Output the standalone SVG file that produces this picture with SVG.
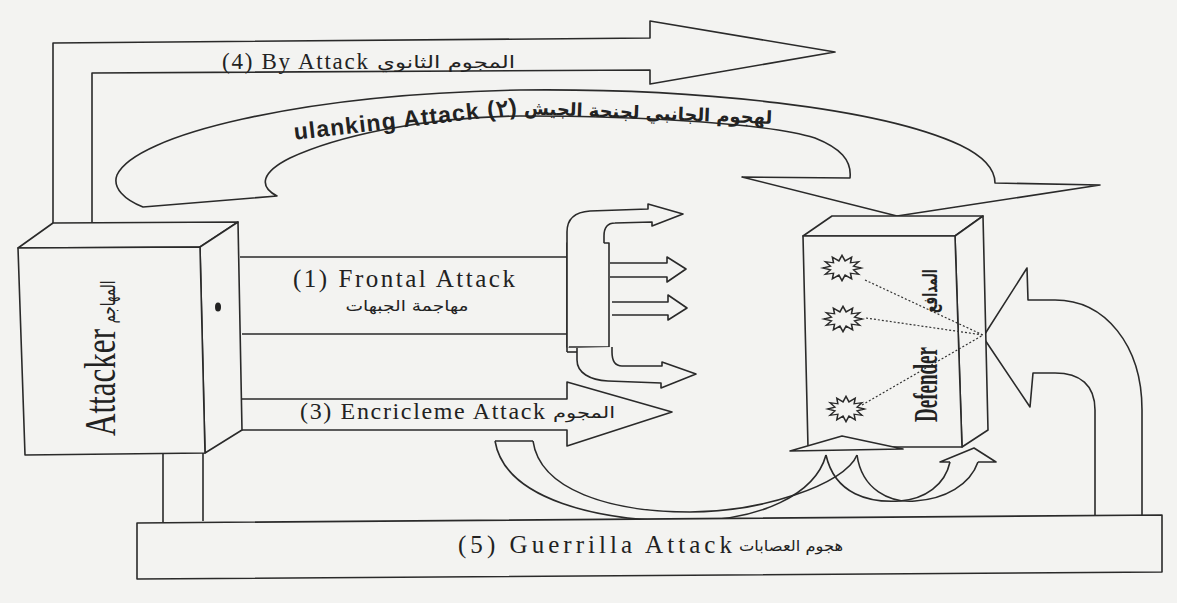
<svg xmlns="http://www.w3.org/2000/svg" width="1177" height="603" viewBox="0 0 1177 603">
<style>
.ln{fill:none;stroke:#2a2a2a;stroke-width:1.6;stroke-linejoin:round}
.bg{fill:#f3f3f1;stroke:#2a2a2a;stroke-width:1.6;stroke-linejoin:round}
.en{font-family:"Liberation Serif","Times New Roman",serif;fill:#222}
.ar{font-family:"DejaVu Sans","Noto Sans",sans-serif;fill:#222}
.fl{font-family:"Liberation Sans",Arial,sans-serif;font-weight:bold;fill:#222}
.dot{fill:none;stroke:#333;stroke-width:1.2;stroke-dasharray:2 2}
</style>
<defs>
<polygon id="burst" points="16,0 9.66,1.81 13.86,6 7.07,4.95 8,10.39 2.59,6.76 0,12 -2.59,6.76 -8,10.39 -7.07,4.95 -13.86,6 -9.66,1.81 -16,0 -9.66,-1.81 -13.86,-6 -7.07,-4.95 -8,-10.39 -2.59,-6.76 0,-12 2.59,-6.76 8,-10.39 7.07,-4.95 13.86,-6 9.66,-1.81" fill="#f3f3f1" stroke="#2a2a2a" stroke-width="1.3"/>
</defs>
<rect x="0" y="0" width="1177" height="603" fill="#f3f3f1"/>

<g id="connectors">
  <g id="by-attack">
    <path class="bg" d="M53 223 V43 L650 38 V21 L835 52 L650 84 V70 L92 73 V223"/>
    <text class="en" x="222" y="69" font-size="23" textLength="146">(4) By Attack</text>
    <text class="ar" x="446" y="68" font-size="17" text-anchor="middle" textLength="138" lengthAdjust="spacingAndGlyphs">المجوم الثانوي</text>
  </g>
  <g id="flanking-attack">
    <path class="bg" d="M143 207 C125 200 112 188 117 175 C135 135 300 94 520 90 C700 88 880 108 960 145 C985 157 995 170 995 183 L1100 185 L897 216 L742 177 L850 178 C852 160 840 148 815 138 C770 124 650 116 520 116 C420 117 335 137 290 158 C262 172 258 186 277 196 Z"/>
    <text class="fl" transform="translate(406,127) rotate(-6.6)" font-size="23" text-anchor="middle" textLength="224">ulanking Attack (٢)</text>
    <text class="ar" transform="translate(648,119) rotate(2.3)" font-size="18" font-weight="bold" text-anchor="middle" textLength="248" lengthAdjust="spacingAndGlyphs">لهجوم الجانبي لجنحة الجيش</text>
  </g>
  <g id="frontal-attack">
    <path class="ln" d="M240 257 H567 M242 334 H567"/>
    <path class="bg" d="M567 243 H609 V347 H567 Z"/>
    <path class="bg" d="M567 352 V232 C567 218 575 212 590 211 L648 209 V204 L683 214 L652 226 V222 L615 223 C607 223 604 228 604 236 V243"/>
    <path class="ln" d="M567 352 H577"/>
    <path class="bg" d="M577 348 V360 C577 373 590 380 608 381 L661 383 V388 L696 374 L662 362 V366 L622 366 C615 366 612 360 612 352 V347"/>
    <path class="bg" d="M610 263 H667 V257 L686 269 L667 282 V277 H610"/>
    <path class="bg" d="M612 302 H668 V295 L687 308 L668 320 V315 H612"/>
    <text class="en" x="293" y="287" font-size="25" textLength="222">(1) Frontal Attack</text>
    <text class="ar" x="407" y="311" font-size="15" text-anchor="middle" textLength="123" lengthAdjust="spacingAndGlyphs">مهاجمة الجبهات</text>
  </g>
  <g id="encircle-attack">
    <path class="bg" d="M242 399 H567 V382 L672 412 L567 446 V430 H242"/>
    <text class="en" x="300" y="419" font-size="24" textLength="245">(3) Encricleme Attack</text>
    <text class="ar" x="584" y="418" font-size="16" text-anchor="middle" textLength="62" lengthAdjust="spacingAndGlyphs">المجوم</text>
    <path class="ln" d="M495 441 H533"/>
    <path class="ln" d="M495 441 C505 500 600 522 690 521 C760 520 815 495 826 455"/>
    <path class="ln" d="M533 441 C540 490 610 512 690 512 C760 512 845 485 857 455"/>
    <path class="ln" d="M826 455 C835 495 870 503 900 501 C925 499 945 485 950 462"/>
    <path class="ln" d="M857 455 C862 490 890 503 915 501 C945 499 970 485 978 462"/>
    <path class="ln" d="M950 462 H940 L974 448 L996 462 H978"/>
  </g>
  <g id="guerrilla-attack">
    <polygon class="bg" points="137,523 1162,515 1162,572 137,579"/>
    <path class="ln" d="M163 453 V522 M203 453 V521"/>
    <path class="ln" d="M1095 515 V410 C1095 385 1080 373 1055 373 H1033 L1030 407 L983 337 L1027 268 L1028 300 H1055 C1105 300 1142 345 1142 410 V515"/>
    <text class="en" x="458" y="553" font-size="25" textLength="274">(5) Guerrilla Attack</text>
    <text class="ar" x="791" y="551" font-size="15" text-anchor="middle" textLength="104" lengthAdjust="spacingAndGlyphs">هجوم العصابات</text>
  </g>
</g>

<g id="attacker">
  <polygon class="bg" points="18,248 53,223 238,222 200,247"/>
  <polygon class="bg" points="200,247 238,222 242,430 205,453"/>
  <polygon class="bg" points="18,248 200,247 205,453 25,455"/>
  <ellipse cx="218" cy="307" rx="3" ry="4.5" fill="#222"/>
  <text class="en" transform="translate(115,436) rotate(-90)" font-size="44" textLength="107" lengthAdjust="spacingAndGlyphs">Attacker</text>
  <text class="ar" transform="translate(115,302) rotate(-90)" font-size="20" text-anchor="middle" textLength="43" lengthAdjust="spacingAndGlyphs">المهاجم</text>
</g>

<g id="defender">
  <polygon class="bg" points="803,236 832,216 983,216 955,236"/>
  <polygon class="bg" points="955,236 983,216 988,430 962,447"/>
  <polygon class="bg" points="803,236 955,236 962,447 808,447"/>
  <use href="#burst" transform="translate(842,268) scale(1.2,1.05)"/>
  <use href="#burst" transform="translate(843,319) scale(1.2,1.05)"/>
  <use href="#burst" transform="translate(846,409) scale(1.15,1.05)"/>
  <path class="dot" d="M865 280 L983 335 M866 318 L983 335 M862 405 L983 335"/>
  <text class="en" transform="translate(937,422) rotate(-90)" font-size="34" font-weight="bold" textLength="75" lengthAdjust="spacingAndGlyphs">Defender</text>
  <text class="ar" transform="translate(937,291) rotate(-90)" font-size="20" font-weight="bold" text-anchor="middle" textLength="44" lengthAdjust="spacingAndGlyphs">المدافع</text>
  <polygon class="bg" points="790,451 842,436 903,449"/>
</g>
</svg>
